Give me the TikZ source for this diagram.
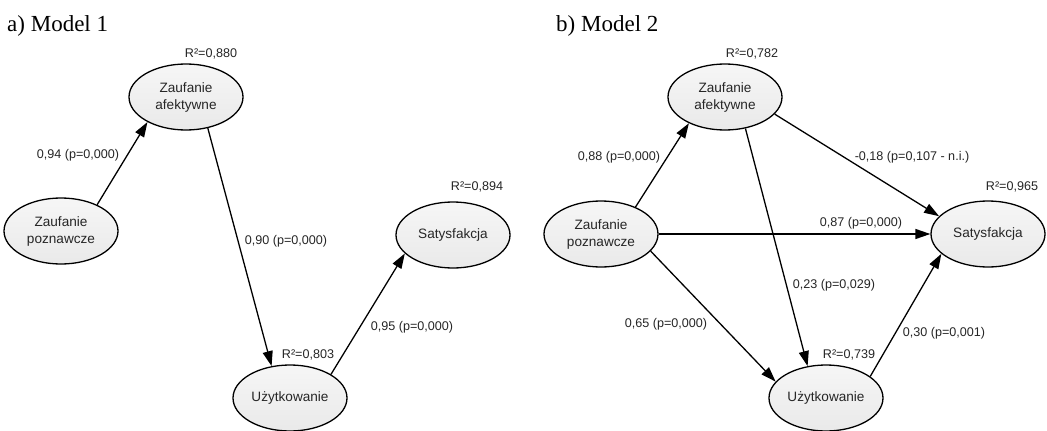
\documentclass[tikz,border=0pt]{standalone}
\usepackage{fontspec}
\setmainfont{Liberation Serif}
\setsansfont{Liberation Sans}
\usetikzlibrary{arrows.meta,shapes.geometric}
\begin{document}
\begin{tikzpicture}[x=1pt,y=-1pt,
  lat/.style={ellipse, draw=black, line width=1.3pt, minimum width=114pt, minimum height=66pt, inner sep=0pt,
    top color=gray!7, bottom color=gray!17, font=\sffamily\fontsize{13.6}{17}\selectfont, align=center, text=black!85},
  lbl/.style={font=\sffamily\fontsize{12.6}{15}\selectfont, text=black!85, inner sep=0pt},
  ttl/.style={font=\fontsize{23}{26}\selectfont, anchor=base west, inner sep=0pt},
  conn/.style={line width=1.3pt, -{Triangle[length=15pt,width=10pt]}}
]
\path[use as bounding box, fill=white] (0,0) rectangle (1047,431);

% titles
\node[ttl] (t1) at (7,31) {a) Model 1};
\node[ttl] (t2) at (556,31) {b) Model 2};

% Model 1
\node[lat] (za1) at (186,97) {Zaufanie\\afektywne};
\node[lat] (zp1) at (61,231) {Zaufanie\\poznawcze};
\node[lat] (sat1) at (453,235) {Satysfakcja};
\node[lat] (u1) at (290,398) {Użytkowanie};

\draw[conn] (zp1.36) -- (za1.213);
\draw[conn] (za1.-55) -- (u1.120);
\draw[conn] (u1.30) -- (sat1.201);

\node[lbl] (r1a) at (211,54) {R²=0,880};
\node[lbl] (r1s) at (477,187) {R²=0,894};
\node[lbl] (r1u) at (308,355) {R²=0,803};
\node[lbl] (l1a) at (78,155) {0,94 (p=0,000)};
\node[lbl] (l1b) at (286,241) {0,90 (p=0,000)};
\node[lbl] (l1c) at (412,327) {0,95 (p=0,000)};

% Model 2
\node[lat] (za2) at (725,97) {Zaufanie\\afektywne};
\node[lat] (zp2) at (601,234) {Zaufanie\\poznawcze};
\node[lat] (sat2) at (988,234) {Satysfakcja};
\node[lat] (u2) at (826,398) {Użytkowanie};

\draw[conn] (zp2.38) -- (za2.216);
\draw[conn] (za2.-19) -- (sat2.160);
\draw[conn] (zp2.east) -- (sat2.west);
\draw[conn] (za2.-57) -- (u2.120);
\draw[conn] (zp2.-19) -- (u2.162);
\draw[conn] (u2.26) -- (sat2.203);

\node[lbl] (r2a) at (752,54) {R²=0,782};
\node[lbl] (r2s) at (1012,187) {R²=0,965};
\node[lbl] (r2u) at (849,355) {R²=0,739};
\node[lbl] (l2a) at (619,157) {0,88 (p=0,000)};
\node[lbl] (l2b) at (912,157) {-0,18 (p=0,107 - n.i.)};
\node[lbl] (l2c) at (861,223) {0,87 (p=0,000)};
\node[lbl] (l2d) at (834,285) {0,23 (p=0,029)};
\node[lbl] (l2e) at (666,324) {0,65 (p=0,000)};
\node[lbl] (l2f) at (944,333) {0,30 (p=0,001)};
\end{tikzpicture}
\end{document}
